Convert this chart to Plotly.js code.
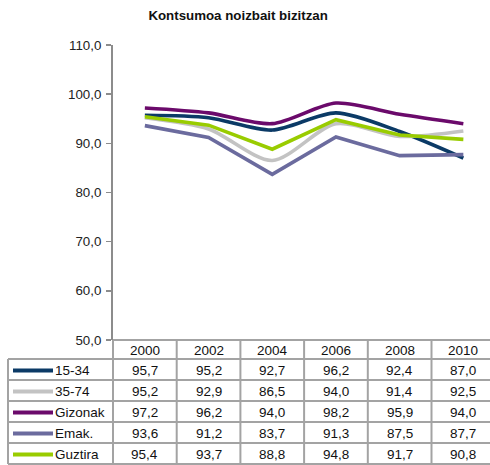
<!DOCTYPE html>
<html>
<head>
<meta charset="utf-8">
<script src="https://cdn.plot.ly/plotly-3.0.1.min.js"></script>
<style>html,body{margin:0;padding:0;background:#fff;}#chart{width:490px;height:465px;}</style>
</head>
<body>
<div id="chart"></div>
<script>
var years = ['2000', '2002', '2004', '2006', '2008', '2010'];
var seriesNames = ['15-34', '35-74', 'Gizonak', 'Emak.', 'Guztira'];
var s1534 = [95.7, 95.2, 92.7, 96.2, 92.4, 87.0];
var s3574 = [95.2, 92.9, 86.5, 94.0, 91.4, 92.5];
var gizonak = [97.2, 96.2, 94.0, 98.2, 95.9, 94.0];
var emak = [93.6, 91.2, 83.7, 91.3, 87.5, 87.7];
var guztira = [95.4, 93.7, 88.8, 94.8, 91.7, 90.8];
var yTicks = [50, 60, 70, 80, 90, 100, 110];

var allSeries = [s1534, s3574, gizonak, emak, guztira];
var colors = ['#0b3a66', '#c3c3c3', '#6b0a6b', '#6b6b9e', '#99cc00'];
var shapesLine = ['spline', 'spline', 'spline', 'linear', 'linear'];

// plot geometry (pixels)
var L = 113, R = 490, T = 45, B = 340;
var W = R - L, H = B - T;
var colW = 63.7;
var xMax = -0.5 + W / colW;
function px2x(px) { return (px - L) / W; }
function py2y(py) { return (B - py) / H; }
function colEdge(i) { return (i * colW) / W; }
function colCenter(i) { return ((i + 0.5) * colW) / W; }

var rowLines = [340, 359, 380, 401, 422, 443, 464];
var borderColor = '#a3a3a3';
var fontFam = 'Liberation Sans, Arial, sans-serif';
var tblSize = 13.5;

var traces = allSeries.map(function (vals, k) {
  return {
    x: years.map(function (y, i) { return i; }),
    y: vals,
    type: 'scatter',
    mode: 'lines',
    name: seriesNames[k],
    line: { color: colors[k], width: 3.6, shape: shapesLine[k], smoothing: 0.8 },
    hoverinfo: 'none'
  };
});

var shapes = [];
var annotations = [];
// horizontal lines
rowLines.forEach(function (py, r) {
  var x0 = r === 0 ? px2x(L) : px2x(8);
  shapes.push({ type: 'line', xref: 'paper', yref: 'paper', x0: x0, x1: 1.02, y0: py2y(py), y1: py2y(py),
    line: { color: borderColor, width: 2 } });
});
// vertical lines of data columns
for (var i = 0; i <= years.length; i++) {
  shapes.push({ type: 'line', xref: 'paper', yref: 'paper', x0: colEdge(i), x1: colEdge(i),
    y0: py2y(rowLines[0]), y1: py2y(rowLines[rowLines.length - 1]), line: { color: borderColor, width: 2 } });
}
// left border of label column
shapes.push({ type: 'line', xref: 'paper', yref: 'paper', x0: px2x(8), x1: px2x(8),
  y0: py2y(rowLines[1]), y1: py2y(rowLines[rowLines.length - 1]), line: { color: borderColor, width: 2 } });

// header years
years.forEach(function (yr, i) {
  annotations.push({ xref: 'paper', yref: 'paper', x: colCenter(i), y: py2y((rowLines[0] + rowLines[1]) / 2 + 1),
    text: yr, showarrow: false, xanchor: 'center', yanchor: 'middle', font: { family: fontFam, size: tblSize, color: '#111' } });
});
// rows
allSeries.forEach(function (vals, k) {
  var yc = py2y((rowLines[k + 1] + rowLines[k + 2]) / 2 + 1);
  shapes.push({ type: 'line', xref: 'paper', yref: 'paper', x0: px2x(13), x1: px2x(53), y0: yc, y1: yc,
    line: { color: colors[k], width: 4 } });
  annotations.push({ xref: 'paper', yref: 'paper', x: px2x(53), y: yc, text: seriesNames[k], showarrow: false,
    xanchor: 'left', yanchor: 'middle', font: { family: fontFam, size: tblSize, color: '#111' } });
  vals.forEach(function (v, i) {
    annotations.push({ xref: 'paper', yref: 'paper', x: colCenter(i), y: yc, text: v.toFixed(1).replace('.', ','),
      showarrow: false, xanchor: 'center', yanchor: 'middle', font: { family: fontFam, size: tblSize, color: '#111' } });
  });
});

var layout = {
  width: 490, height: 465,
  margin: { l: L, r: 490 - R, t: T, b: 465 - B, pad: 0 },
  paper_bgcolor: '#ffffff', plot_bgcolor: '#ffffff',
  showlegend: false,
  separators: ',.',
  font: { family: fontFam, size: 12, color: '#222' },
  title: { text: '<b>Kontsumoa noizbait bizitzan</b>', x: 0.486, xref: 'container', xanchor: 'center',
    y: 1 - 15 / 465, yref: 'container', yanchor: 'middle', font: { family: fontFam, size: 13.3, color: '#111' } },
  xaxis: { range: [-0.5, xMax], showticklabels: false, showgrid: false, zeroline: false, showline: false, ticks: '', fixedrange: true },
  yaxis: { range: [50, 110], tickvals: yTicks, tickformat: '.1f', showgrid: false, zeroline: false,
    showline: true, linecolor: '#8c8c8c', linewidth: 2, ticks: 'outside', ticklen: 5, tickwidth: 1.5, tickcolor: '#8c8c8c',
    tickfont: { family: fontFam, size: 13.3, color: '#222' }, ticklabelstandoff: 2, fixedrange: true },
  shapes: shapes,
  annotations: annotations
};

Plotly.newPlot('chart', traces, layout, { displayModeBar: false, staticPlot: true });
</script>
</body>
</html>
